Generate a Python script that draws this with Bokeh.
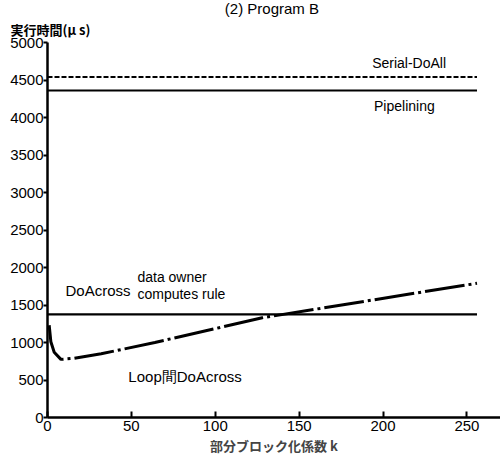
from bokeh.plotting import figure
from bokeh.models import Label, Range1d, FixedTicker, Title
from bokeh.embed import file_html
from bokeh.resources import INLINE

# ---- data ----
k_loop = [1, 2, 4, 8, 16, 32, 64, 128, 256]
t_loop = [1230, 1010, 870, 775, 790, 850, 1000, 1330, 1790]
k_flat = [0, 256]
t_serial = 4540
t_pipe = 4360
t_doacross = 1375
x_ticks = [0, 50, 100, 150, 200, 250]
y_ticks = [0, 500, 1000, 1500, 2000, 2500, 3000, 3500, 4000, 4500, 5000]

FONT = "Liberation Sans"
CJK = "Noto Sans CJK JP"

p = figure(width=500, height=468, output_backend="svg", toolbar_location=None,
           x_range=Range1d(0, 270), y_range=Range1d(0, 5000),
           min_border_left=47, min_border_right=0, min_border_top=42, min_border_bottom=51)
p.title = None
p.outline_line_color = None
p.xgrid.visible = False
p.ygrid.visible = False
p.background_fill_color = "white"

# lines
p.line([k_flat[0], k_flat[1]], [t_serial, t_serial], line_color="black", line_width=2, line_dash="5 2")
p.line([k_flat[0], k_flat[1]], [t_pipe, t_pipe], line_color="black", line_width=2.2)
p.line([k_flat[0], k_flat[1]], [t_doacross, t_doacross], line_color="black", line_width=2.2)
p.line(k_loop, t_loop, line_color="black", line_width=3, line_dash="40 4 3 4")

# axes
for ax in (p.xaxis[0], p.yaxis[0]):
    ax.axis_line_width = 2.5
    ax.axis_line_color = "black"
    ax.major_tick_line_width = 2
    ax.major_tick_line_color = "black"
    ax.minor_tick_line_color = None
    ax.major_label_text_font = FONT
    ax.major_label_text_font_size = "15px"
    ax.major_label_text_color = "black"

p.xaxis.ticker = FixedTicker(ticks=x_ticks)
p.xaxis.major_tick_in = 6
p.xaxis.major_tick_out = 0
p.xaxis.major_label_standoff = 3
p.xaxis.axis_label = "部分ブロック化係数 k"
p.xaxis.axis_label_text_font = CJK
p.xaxis.axis_label_text_font_style = "bold"
p.xaxis.axis_label_text_font_size = "13px"
p.xaxis.axis_label_standoff = 2

p.yaxis.ticker = FixedTicker(ticks=y_ticks)
p.yaxis.major_tick_in = 0
p.yaxis.major_tick_out = 4
p.yaxis.major_label_standoff = 0

# titles above the frame
p.add_layout(Title(text="実行時間(μ s)", align="left", offset=-37, standoff=8,
                   text_font=CJK, text_font_size="13px", text_font_style="bold",
                   text_color="black"), "above")
p.add_layout(Title(text="(2) Program  B", align="center", standoff=-7,
                   text_font=FONT, text_font_size="15px", text_font_style="normal",
                   text_color="black"), "above")

def lab(x, y, text, font=FONT, size="14px", align="left", baseline="middle", style="normal"):
    p.add_layout(Label(x=x, y=y, text=text, text_font=font, text_font_size=size,
                       text_align=align, text_baseline=baseline, text_font_style=style,
                       text_color="black"))

lab(193.5, 4733, "Serial-DoAll")
lab(194.6, 4147, "Pipelining")
lab(10.7, 1693, "DoAcross", size="15px")
lab(53.6, 1867, "data owner")
lab(53.6, 1653, "computes rule")
lab(48.2, 547, "Loop間DoAcross", size="15px")

open("out.html", "w").write(file_html(p, INLINE))
